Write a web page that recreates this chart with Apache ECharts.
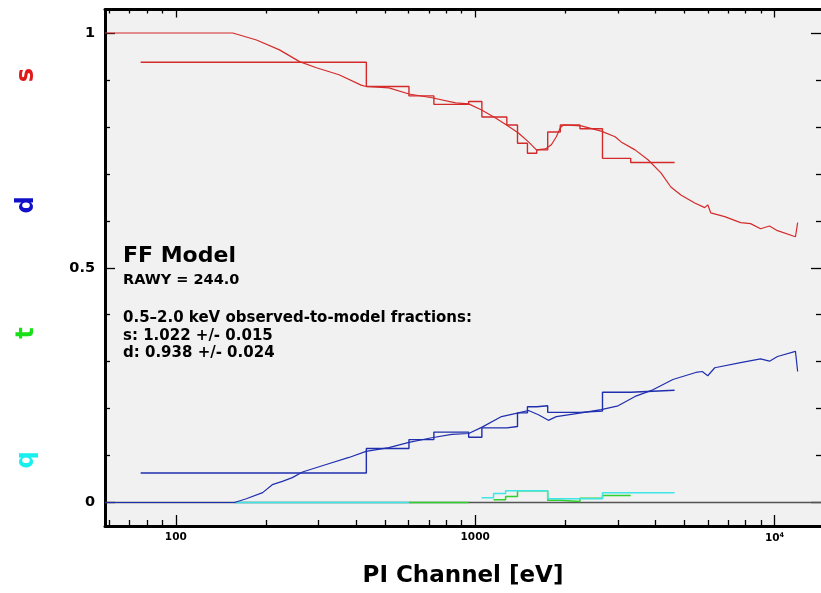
<!DOCTYPE html>
<html>
<head>
<meta charset="utf-8">
<script src="https://cdn.jsdelivr.net/npm/echarts@6/dist/echarts.min.js"></script>
<style>
html,body{margin:0;padding:0;background:#ffffff;}
#chart{width:821px;height:593px;}
</style>
</head>
<body>
<div id="chart"></div>
<script>
// ---- data ----
// histogram bin edges (eV) for s and d data
var binEdges = [76.3, 433, 601, 728, 951, 1053, 1276, 1385, 1495, 1606, 1747, 1925, 2239, 2663, 3309, 4637];
var sHist = [0.9375, 0.886, 0.866, 0.848, 0.854, 0.821, 0.804, 0.765, 0.744, 0.751, 0.789, 0.804, 0.796, 0.733, 0.724];
var dHist = [0.063, 0.115, 0.134, 0.150, 0.139, 0.159, 0.162, 0.191, 0.204, 0.206, 0.192, 0.192, 0.195, 0.235, 0.239];
// t and q data
var tEdges = [1152, 1264, 1385, 1747, 1925, 2239, 2663, 3309];
var tHist  = [0.006, 0.013, 0.025, 0.005, 0.002, 0.009, 0.015];
var qEdges = [1051, 1152, 1264, 1747, 2663, 4637];
var qHist  = [0.010, 0.019, 0.025, 0.008, 0.021];
// zero-level stretches of t and q
var qZeroE = [157, 601];
var tZeroE = [601, 951];

// model curves
var sModelE = [58, 155, 186, 222, 259, 295, 351, 416, 432, 515, 601, 717, 861, 951, 1051, 1170, 1273, 1395, 1507, 1602, 1717, 1797, 1867, 1925, 1970, 2262, 2636, 2934, 3073, 3421, 3779, 4175, 4506, 4867, 5415, 5848, 5984, 6124, 6817, 7704, 8319, 8982, 9623, 10233, 11750, 11950];
var sModel  = [1.0, 1.0, 0.985, 0.964, 0.939, 0.926, 0.911, 0.889, 0.886, 0.883, 0.870, 0.862, 0.851, 0.849, 0.836, 0.819, 0.804, 0.787, 0.768, 0.751, 0.753, 0.762, 0.779, 0.798, 0.804, 0.802, 0.791, 0.779, 0.768, 0.751, 0.730, 0.702, 0.672, 0.655, 0.638, 0.628, 0.634, 0.617, 0.609, 0.596, 0.594, 0.583, 0.589, 0.579, 0.566, 0.596];
var dModelE = [58, 157, 172, 195, 210, 227, 245, 265, 318, 379, 432, 515, 601, 717, 835, 951, 1051, 1225, 1395, 1507, 1627, 1756, 1867, 2262, 2636, 3003, 3421, 3926, 4577, 5458, 5737, 5984, 6315, 7704, 8982, 9623, 10233, 11750, 11950];
var dModel  = [0, 0, 0.008, 0.021, 0.038, 0.045, 0.053, 0.065, 0.081, 0.096, 0.109, 0.117, 0.128, 0.138, 0.145, 0.147, 0.160, 0.183, 0.191, 0.196, 0.187, 0.175, 0.183, 0.191, 0.198, 0.206, 0.226, 0.240, 0.262, 0.277, 0.279, 0.270, 0.287, 0.298, 0.306, 0.301, 0.311, 0.322, 0.279];

// axes
var xMin = 58, xMax = 14300;
var yMin = -0.05, yMax = 1.05;
var xMajorTicks = [100, 1000, 10000];
var xMinorTicks = [60, 70, 80, 90, 200, 300, 400, 500, 600, 700, 800, 900, 2000, 3000, 4000, 5000, 6000, 7000, 8000, 9000];
var yMajorTicks = [0, 0.5, 1];
var yMinorTicks = [0.1, 0.2, 0.3, 0.4, 0.6, 0.7, 0.8, 0.9];

var textLines = ['FF Model', 'RAWY = 244.0', '0.5\u20132.0 keV observed-to-model fractions:', 's: 1.022 +/- 0.015', 'd: 0.938 +/- 0.024'];
var sideLetters = ['s', 'd', 't', 'q'];

// ---- build ----
function histPoints(edges, vals) {
  var pts = [];
  for (var i = 0; i < vals.length; i++) pts.push([edges[i], vals[i]]);
  pts.push([edges[vals.length], vals[vals.length - 1]]);
  return pts;
}
function zip(a, b) { return a.map(function (v, i) { return [v, b[i]]; }); }
function zeroSeg(e) { return e.map(function (v) { return [v, 0]; }); }

var FONT = 'DejaVu Sans';
var RED = '#d42a2a', BLUE = '#1f2fae', GREEN = '#2fd02f', CYAN = '#3fe6e6';

function xAx(pos, ticks, len, showLine, showLabel) {
  return {
    type: 'log', logBase: 10, min: xMin, max: xMax, position: pos, gridIndex: 0,
    axisLine: { show: showLine, onZero: false, lineStyle: { color: '#000', width: 3 } },
    axisTick: { show: true, inside: true, length: len, customValues: ticks, lineStyle: { color: '#000', width: 1.3 } },
    axisLabel: {
      show: showLabel, customValues: ticks, margin: 6, color: '#000',
      formatter: function (v) { return v >= 9999 ? '{a|10}{s|4}' : '{a|' + Math.round(v) + '}'; },
      rich: {
        a: { fontFamily: FONT, fontWeight: 'bold', fontSize: 10.5, color: '#000' },
        s: { fontFamily: FONT, fontWeight: 'bold', fontSize: 6.5, color: '#000', verticalAlign: 'top', padding: [0, 0, 6, 0] }
      }
    },
    splitLine: { show: false }
  };
}
function yAx(pos, ticks, len, showLine, showLabel) {
  return {
    type: 'value', min: yMin, max: yMax, position: pos, gridIndex: 0,
    axisLine: { show: showLine, onZero: false, lineStyle: { color: '#000', width: 3 } },
    axisTick: { show: true, inside: true, length: len, customValues: ticks, lineStyle: { color: '#000', width: 1.3 } },
    axisLabel: {
      show: showLabel, customValues: ticks, margin: 10, color: '#000',
      fontFamily: FONT, fontWeight: 'bold', fontSize: 14.5,
      formatter: function (v) { return v === 0 ? '0' : (v === 1 ? '1' : '0.5'); }
    },
    splitLine: { show: false }
  };
}

var xAxes = [xAx('bottom', xMajorTicks, 11, true, true), xAx('bottom', xMinorTicks, 6, false, false),
             xAx('top', xMajorTicks, 8, true, false), xAx('top', xMinorTicks, 4, false, false)];
xAxes[0].name = 'PI Channel [eV]';
xAxes[0].nameLocation = 'middle';
xAxes[0].nameGap = 39;
xAxes[0].nameTextStyle = { fontFamily: FONT, fontWeight: 'bold', fontSize: 23, color: '#000' };

var yAxes = [yAx('left', yMajorTicks, 10, true, true), yAx('left', yMinorTicks, 5, false, false),
             yAx('right', yMajorTicks, 10, false, false), yAx('right', yMinorTicks, 5, false, false)];

function lineS(data, color, step, w) {
  return {
    type: 'line', data: data, xAxisIndex: 0, yAxisIndex: 0, step: step || false,
    showSymbol: false, symbol: 'none', silent: true,
    lineStyle: { color: color, width: w || 1.3 }, z: 3
  };
}

var series = [
  {
    type: 'line', data: [[xMin, 0], [xMax, 0]], xAxisIndex: 0, yAxisIndex: 0, symbol: 'none',
    lineStyle: { color: '#555', width: 1.6 }, z: 2, silent: true
  },
  lineS(zeroSeg(qZeroE), CYAN, false, 1.6),
  lineS(zeroSeg(tZeroE), GREEN, false, 1.6),
  lineS(histPoints(tEdges, tHist), GREEN, 'end', 1.5),
  lineS(histPoints(qEdges, qHist), CYAN, 'end', 1.5),
  lineS(zip(sModelE, sModel), RED, false, 1.2),
  lineS(histPoints(binEdges, sHist), RED, 'end', 1.4),
  lineS(zip(dModelE, dModel), BLUE, false, 1.2),
  lineS(histPoints(binEdges, dHist), BLUE, 'end', 1.4)
];

var letterColors = ['#e01818', '#1010c8', '#18e018', '#18f0f0'];
var letterY = [75, 205, 333, 460];
var graphics = sideLetters.map(function (t, i) {
  return {
    type: 'text', x: 27, y: letterY[i], rotation: Math.PI / 2,
    style: { text: t, fill: letterColors[i], font: 'bold 24px "' + FONT + '"', textAlign: 'center', textVerticalAlign: 'middle' }
  };
});
var textY = [256, 280, 318, 336, 353];
var textSize = [22, 14.5, 15, 15, 15];
textLines.forEach(function (t, i) {
  graphics.push({
    type: 'text', x: 123, y: textY[i],
    style: { text: t, fill: '#000', font: 'bold ' + textSize[i] + 'px "' + FONT + '"', textAlign: 'left', textVerticalAlign: 'middle' }
  });
});

var chart = echarts.init(document.getElementById('chart'), null, { renderer: 'canvas' });
chart.setOption({
  animation: false,
  backgroundColor: '#ffffff',
  grid: { left: 105, right: -2, top: 9.5, bottom: 66.5, show: true, backgroundColor: '#f1f1f1', borderWidth: 0 },
  xAxis: xAxes,
  yAxis: yAxes,
  series: series,
  graphic: graphics
});
</script>
</body>
</html>
